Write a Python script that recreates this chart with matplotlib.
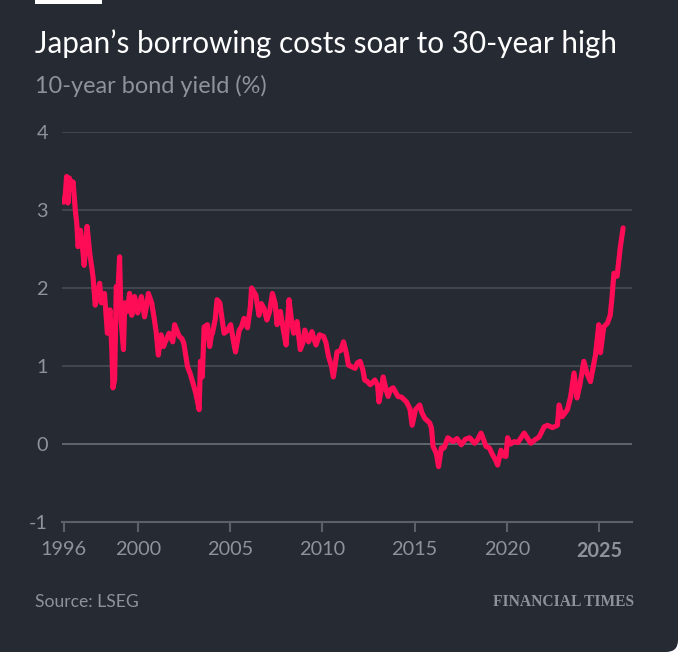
import matplotlib
matplotlib.use('Agg')
import matplotlib.pyplot as plt
from matplotlib.patches import Rectangle, FancyBboxPatch

# 10-year JGB yield (%)
years = [
    1996.00, 1996.08, 1996.15, 1996.22, 1996.30, 1996.42, 1996.50, 1996.62, 1996.70, 1996.77,
    1996.90, 1997.02, 1997.10, 1997.26, 1997.40, 1997.58, 1997.70, 1997.85, 1997.94, 1998.03,
    1998.20, 1998.36, 1998.50, 1998.60, 1998.66, 1998.75, 1998.84, 1998.92, 1999.02, 1999.10,
    1999.23, 1999.30, 1999.45, 1999.56, 1999.68, 1999.83, 2000.00, 2000.10, 2000.20, 2000.37,
    2000.50, 2000.58, 2000.76, 2000.90, 2001.00, 2001.12, 2001.27, 2001.40, 2001.50, 2001.70,
    2001.90, 2002.00, 2002.25, 2002.40, 2002.50, 2002.70, 2002.85, 2002.97, 2003.15, 2003.33,
    2003.40, 2003.50, 2003.60, 2003.78, 2003.90, 2004.00, 2004.05, 2004.20, 2004.30, 2004.45,
    2004.60, 2004.68, 2004.85, 2005.04, 2005.20, 2005.30, 2005.50, 2005.62, 2005.76, 2005.95,
    2006.10, 2006.17, 2006.30, 2006.40, 2006.57, 2006.70, 2006.84, 2007.00, 2007.15, 2007.30,
    2007.45, 2007.55, 2007.73, 2007.90, 2008.04, 2008.20, 2008.35, 2008.45, 2008.63, 2008.81,
    2008.95, 2009.05, 2009.26, 2009.44, 2009.55, 2009.66, 2009.85, 2010.07, 2010.20, 2010.34,
    2010.50, 2010.60, 2010.80, 2011.00, 2011.15, 2011.30, 2011.42, 2011.60, 2011.78, 2011.90,
    2012.05, 2012.20, 2012.30, 2012.45, 2012.60, 2012.85, 2013.00, 2013.07, 2013.20, 2013.30,
    2013.45, 2013.57, 2013.70, 2013.84, 2014.10, 2014.30, 2014.56, 2014.75, 2014.87, 2015.05,
    2015.28, 2015.40, 2015.55, 2015.82, 2015.92, 2016.00, 2016.18, 2016.30, 2016.45, 2016.60,
    2016.80, 2017.08, 2017.30, 2017.53, 2017.75, 2017.98, 2018.25, 2018.40, 2018.60, 2018.75,
    2018.87, 2019.05, 2019.23, 2019.40, 2019.50, 2019.68, 2019.80, 2019.95, 2020.04, 2020.20,
    2020.40, 2020.60, 2020.94, 2021.10, 2021.30, 2021.50, 2021.75, 2022.02, 2022.20, 2022.47,
    2022.74, 2022.83, 2023.00, 2023.28, 2023.45, 2023.64, 2023.80, 2023.95, 2024.17, 2024.35,
    2024.53, 2024.80, 2024.98, 2025.07, 2025.25, 2025.45, 2025.60, 2025.70, 2025.80, 2025.97,
    2026.15, 2026.30,
]
yields = [
    3.10, 3.20, 3.43, 3.09, 3.41, 3.30, 3.36, 3.00, 2.83, 2.53,
    2.74, 2.50, 2.29, 2.79, 2.45, 2.15, 1.78, 1.95, 2.06, 1.81,
    1.93, 1.42, 1.72, 1.20, 0.72, 0.82, 2.02, 1.90, 2.40, 1.59,
    1.21, 1.81, 1.70, 1.93, 1.65, 1.89, 1.68, 1.80, 1.89, 1.63,
    1.80, 1.93, 1.81, 1.60, 1.44, 1.14, 1.40, 1.25, 1.31, 1.42,
    1.31, 1.53, 1.38, 1.35, 1.29, 0.99, 0.90, 0.80, 0.65, 0.44,
    1.06, 0.86, 1.50, 1.53, 1.25, 1.40, 1.42, 1.60, 1.85, 1.81,
    1.55, 1.42, 1.45, 1.53, 1.30, 1.18, 1.46, 1.50, 1.61, 1.49,
    1.75, 2.00, 1.95, 1.91, 1.65, 1.80, 1.74, 1.59, 1.70, 1.93,
    1.80, 1.53, 1.70, 1.45, 1.27, 1.85, 1.55, 1.42, 1.57, 1.21,
    1.30, 1.46, 1.31, 1.44, 1.35, 1.27, 1.40, 1.38, 1.30, 1.12,
    1.00, 0.86, 1.18, 1.20, 1.31, 1.17, 1.01, 0.99, 0.97, 1.04,
    1.06, 0.95, 0.82, 0.80, 0.76, 0.82, 0.75, 0.54, 0.70, 0.86,
    0.70, 0.61, 0.70, 0.72, 0.61, 0.60, 0.54, 0.45, 0.24, 0.44,
    0.50, 0.40, 0.33, 0.27, 0.20, -0.03, -0.12, -0.29, -0.05, -0.05,
    0.08, 0.03, 0.07, -0.01, 0.06, 0.08, 0.01, 0.05, 0.14, 0.05,
    -0.03, -0.05, -0.14, -0.21, -0.27, -0.08, -0.15, -0.16, 0.08, 0.00,
    0.03, 0.02, 0.14, 0.08, 0.01, 0.05, 0.09, 0.22, 0.24, 0.21,
    0.24, 0.50, 0.35, 0.44, 0.60, 0.91, 0.59, 0.75, 1.06, 0.90,
    0.80, 1.14, 1.53, 1.17, 1.50, 1.55, 1.65, 1.89, 2.19, 2.15,
    2.53, 2.77,
]

x_ticks = [1996, 2000, 2005, 2010, 2015, 2020, 2025]
y_ticks = [-1, 0, 1, 2, 3, 4]

BG = '#262a33'
GRID = '#474b54'
ZERO = '#6b6f77'
AXIS = '#5c6068'
TXT = '#8e929a'
LINE = '#ff0c56'

plt.rcParams['font.family'] = ['Lato', 'DejaVu Sans']

fig = plt.figure(figsize=(6.78, 6.52), dpi=100)
fig.patch.set_facecolor('white')
# dark card with a rounded bottom-right corner
fig.patches.append(FancyBboxPatch((-0.2, 0.0), 1.2, 1.3, boxstyle='round,pad=0,rounding_size=0.018',
                                  transform=fig.transFigure, facecolor=BG, edgecolor='none', zorder=-5))
fig.patches.append(Rectangle((35 / 678, 1 - 4 / 652), 67 / 678, 4 / 652, transform=fig.transFigure,
                             facecolor='white', edgecolor='none', zorder=-4))

ax = fig.add_axes([62 / 678, 130 / 652, 570 / 678, 390 / 652])
ax.set_facecolor('none')
ax.set_zorder(2)

for v in y_ticks[1:]:
    ax.axhline(v, color=ZERO if v == 0 else GRID, linewidth=1.2, zorder=1)

ax.plot(years, yields, color=LINE, linewidth=3.7, solid_joinstyle='round', solid_capstyle='round', zorder=3)

ax.set_xlim(1995.9, 2026.78)
ax.set_ylim(-1, 4)
ax.set_xticks(x_ticks)
ax.set_xticklabels([str(t) for t in x_ticks])
ax.set_yticks(y_ticks)
ax.set_yticklabels([str(t) for t in y_ticks])

for s in ['top', 'right', 'left']:
    ax.spines[s].set_visible(False)
ax.spines['bottom'].set_linewidth(1.5)
ax.spines['bottom'].set_color(AXIS)

ax.tick_params(axis='x', colors=AXIS, length=7, width=1.5, pad=7, labelsize=14.3, labelcolor=TXT)
ax.tick_params(axis='y', length=0, pad=10, labelsize=14.3, labelcolor=TXT)
ax.get_xticklabels()[-1].set_fontweight('bold')

fig.text(35 / 678, 1 - 44 / 652, "Japan\u2019s borrowing costs soar to 30-year high",
         color='white', fontsize=21.3, va='center', ha='left')
fig.text(35 / 678, 1 - 86 / 652, "10-year bond yield (%)", color=TXT, fontsize=16.9, va='center', ha='left')
fig.text(35 / 678, 1 - 602 / 652, "Source: LSEG", color=TXT, fontsize=12.6, va='center', ha='left')
fig.text(634 / 678, 1 - 602 / 652, "FINANCIAL TIMES", color=TXT, fontsize=11.2, va='center', ha='right',
         family='Liberation Serif', fontweight='bold')

fig.savefig('out.png', dpi=100, facecolor=fig.get_facecolor())
